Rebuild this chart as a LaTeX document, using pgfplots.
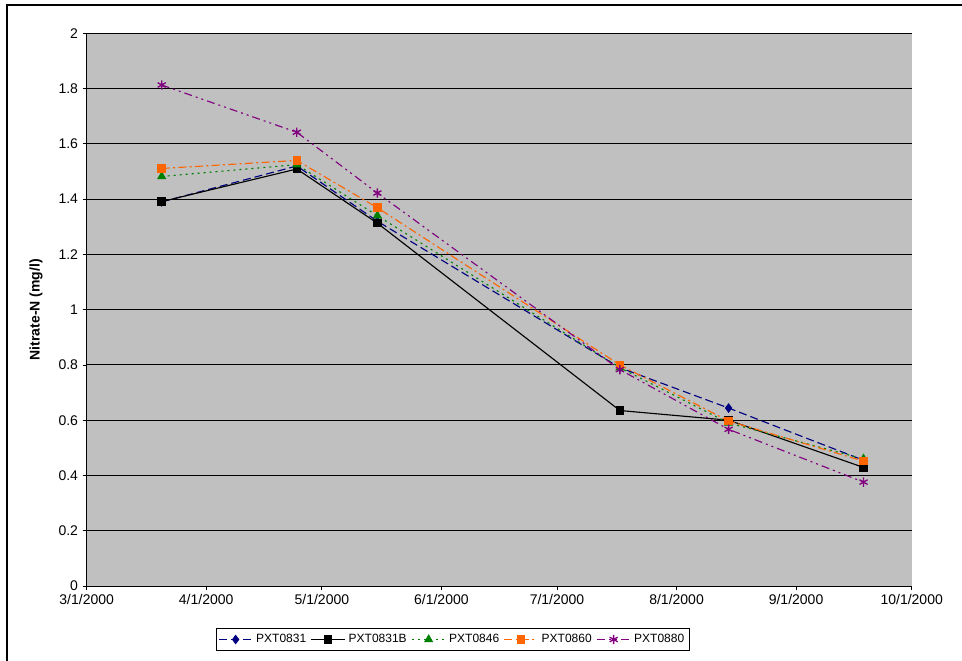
\documentclass[border=0pt]{standalone}
\usepackage{fontspec}
\setmainfont{Liberation Sans}
\usepackage{pgfplots}
\pgfplotsset{compat=1.18}
\definecolor{plotgrey}{HTML}{C0C0C0}
\definecolor{navyc}{HTML}{000080}
\definecolor{greenc}{HTML}{008000}
\definecolor{orangec}{HTML}{FF6600}
\definecolor{purplec}{HTML}{800080}
\begin{document}
\begin{tikzpicture}[x=0.75pt,y=0.75pt]
\path[use as bounding box] (-86.7,-74) rectangle (875.3,586);
\begin{axis}[
  at={(0,0)}, anchor=south west,
  scale only axis, width=618.75pt, height=414.5pt,
  xmin=0, xmax=214, ymin=0, ymax=2,
  axis background/.style={fill=plotgrey},
  axis x line*=bottom, axis y line*=left,
  axis line style={-, black, line width=0.75pt},
  tick align=outside, major tick length=3pt,
  tick style={black, line width=0.6pt},
  xtick={0,31,61,92,122,153,184,214},
  xticklabels={3/1/2000,4/1/2000,5/1/2000,6/1/2000,7/1/2000,8/1/2000,9/1/2000,10/1/2000},
  ytick={0,0.2,0.4,0.6,0.8,1,1.2,1.4,1.6,1.8,2},
  yticklabels={0,0.2,0.4,0.6,0.8,1,1.2,1.4,1.6,1.8,2},
  ymajorgrids, major grid style={black, line width=0.75pt},
  ticklabel style={font=\fontsize{10.5}{12}\selectfont},
  /pgf/number format/assume math mode=true,
  ylabel={Nitrate-N (mg/l)},
  every axis y label/.style={at={(axis description cs:-0.0615,0.5)}, rotate=90, anchor=center, font=\fontsize{10.5}{12}\selectfont\bfseries},
  legend columns=5,
  legend style={at={(0.444,-0.0968)}, anchor=center, draw=black, fill=white, line width=0.75pt,
    font=\fontsize{9}{11}\selectfont, inner sep=1.5pt,
    nodes={inner sep=2.5pt},
    /tikz/every even column/.append style={column sep=1pt}},
  legend image code/.code={\draw[mark repeat=2,mark phase=2,#1] plot coordinates {(0pt,0pt) (12.5pt,0pt) (25pt,0pt)};},
  every axis plot/.append style={line width=0.85pt},
  clip=false,
]
\addplot[navyc, dash pattern=on 6pt off 3pt, mark=diamond*, mark size=3pt, mark options={solid}] coordinates {
 (19.46,1.39) (54.5,1.52) (75.4,1.32) (138.3,0.79) (166.5,0.644) (201.5,0.455)};
\addlegendentry{PXT0831}
\addplot[black, solid, mark=square*, mark size=2.8pt] coordinates {
 (19.46,1.391) (54.5,1.509) (75.4,1.313) (138.3,0.635) (166.5,0.60) (201.5,0.429)};
\addlegendentry{PXT0831B}
\addplot[greenc, dash pattern=on 1.5pt off 3pt, mark=triangle*, mark size=3.2pt, mark options={solid}] coordinates {
 (19.46,1.482) (54.5,1.525) (75.4,1.340) (138.3,0.79) (166.5,0.59) (201.5,0.46)};
\addlegendentry{PXT0846}
\addplot[orangec, dash pattern=on 6pt off 2.5pt on 1.5pt off 2.5pt, mark=square*, mark size=2.8pt, mark options={solid}] coordinates {
 (19.46,1.511) (54.5,1.540) (75.4,1.369) (138.3,0.80) (166.5,0.597) (201.5,0.452)};
\addlegendentry{PXT0860}
\addplot[purplec, dash pattern=on 6pt off 3pt on 1.5pt off 3pt on 1.5pt off 3pt, mark=asterisk, mark size=3.5pt, mark options={solid, line width=1pt}] coordinates {
 (19.46,1.813) (54.5,1.642) (75.4,1.422) (138.3,0.783) (166.5,0.567) (201.5,0.376)};
\addlegendentry{PXT0880}
\end{axis}
\draw[line width=1.5pt] (-79.5,-80) -- (-79.5,581) -- (880,581);
\end{tikzpicture}
\end{document}
